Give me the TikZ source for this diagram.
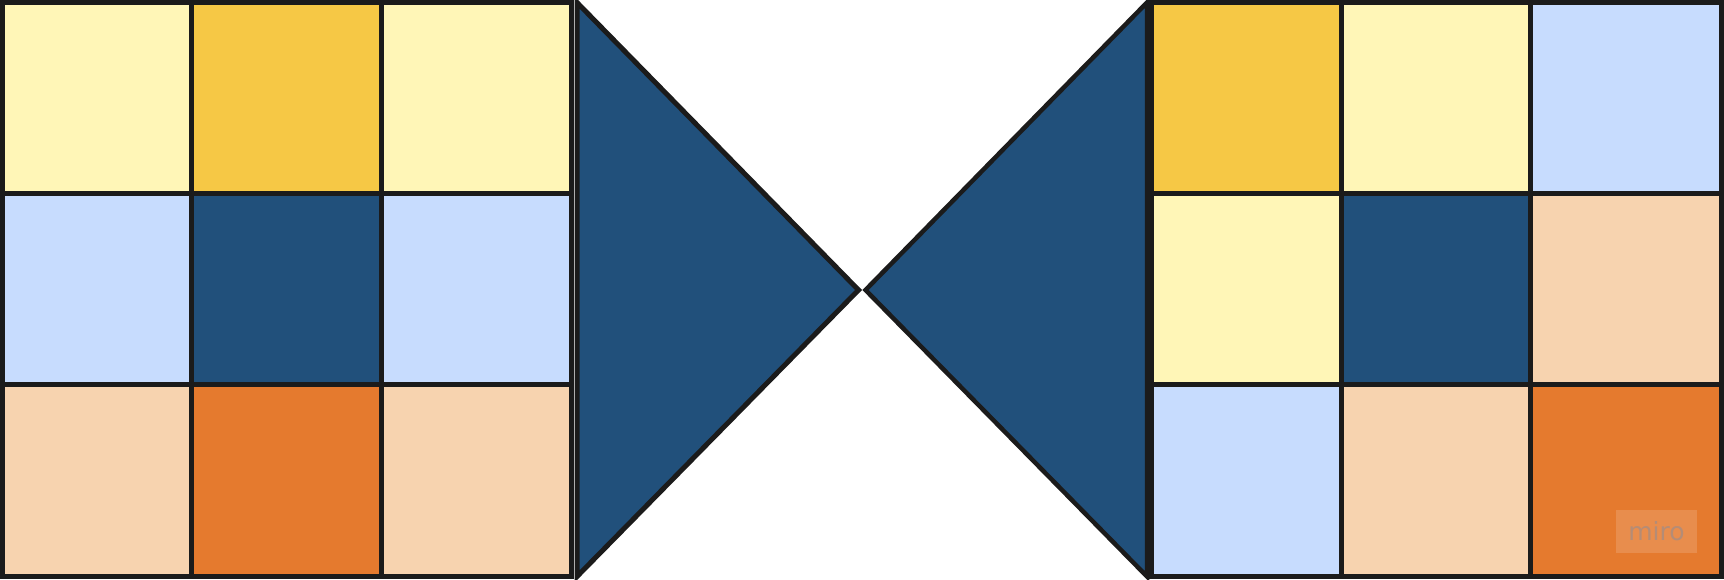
\documentclass[tikz,border=0pt]{standalone}
\usepackage{fontspec}
\newfontfamily\wmfont{DejaVu Sans}
\definecolor{lyel}{HTML}{FFF6B7}
\definecolor{gold}{HTML}{F6C845}
\definecolor{lblue}{HTML}{C7DCFE}
\definecolor{dblue}{HTML}{21507B}
\definecolor{peach}{HTML}{F7D3AF}
\definecolor{orng}{HTML}{E57A2E}
\definecolor{edge}{HTML}{1B1B1B}
\definecolor{wmtext}{HTML}{B08C7A}
\begin{document}
\begin{tikzpicture}[x=1pt,y=-1pt,
  gridline/.style={draw=edge,line width=5pt,line cap=rect},
  tri/.style={draw=edge,fill=dblue,line width=5pt,line join=miter},
  wm/.style={fill=white,fill opacity=0.15,text=wmtext,text opacity=0.9,
    minimum width=81pt,minimum height=43pt,inner sep=0pt,
    font=\wmfont\fontsize{25}{25}\selectfont}]
\useasboundingbox (0,0) rectangle (1724,579);
\fill[white] (0,0) rectangle (1724,579);
\def\cellfill#1#2#3#4#5{\fill[#5] (#1,#2) rectangle (#3,#4);}
% left grid cells
\cellfill{2.5}{2.5}{191.5}{193}{lyel}
\cellfill{191.5}{2.5}{381}{193}{gold}
\cellfill{381}{2.5}{571.5}{193}{lyel}
\cellfill{2.5}{193}{191.5}{384}{lblue}
\cellfill{191.5}{193}{381}{384}{dblue}
\cellfill{381}{193}{571.5}{384}{lblue}
\cellfill{2.5}{384}{191.5}{576.5}{peach}
\cellfill{191.5}{384}{381}{576.5}{orng}
\cellfill{381}{384}{571.5}{576.5}{peach}
% right grid cells
\cellfill{1151.5}{2.5}{1341}{193.5}{gold}
\cellfill{1341}{2.5}{1530}{193.5}{lyel}
\cellfill{1530}{2.5}{1721}{193.5}{lblue}
\cellfill{1151.5}{193.5}{1341}{384}{lyel}
\cellfill{1341}{193.5}{1530}{384}{dblue}
\cellfill{1530}{193.5}{1721}{384}{peach}
\cellfill{1151.5}{384}{1341}{576.5}{lblue}
\cellfill{1341}{384}{1530}{576.5}{peach}
\cellfill{1530}{384}{1721}{576.5}{orng}
% left grid lines
\draw[gridline] (2.5,2.5) rectangle (571.5,576.5);
\draw[gridline] (191.5,2.5) -- (191.5,576.5);
\draw[gridline] (381,2.5) -- (381,576.5);
\draw[gridline] (2.5,193) -- (571.5,193);
\draw[gridline] (2.5,384) -- (571.5,384);
% right grid lines
\draw[gridline] (1151.5,2.5) rectangle (1721,576.5);
\draw[gridline] (1341,2.5) -- (1341,576.5);
\draw[gridline] (1530,2.5) -- (1530,576.5);
\draw[gridline] (1151.5,193.5) -- (1721,193.5);
\draw[gridline] (1151.5,384) -- (1721,384);
% triangles
\draw[tri] (577,2.5) -- (858.5,290) -- (577,576.5) -- cycle;
\draw[tri,line width=4.5pt] (1147,2.5) -- (865.5,290) -- (1147,576.5) -- cycle;
% watermark
\node[wm] (wmark) at (1656.5,531.5) {miro};
\end{tikzpicture}
\end{document}
